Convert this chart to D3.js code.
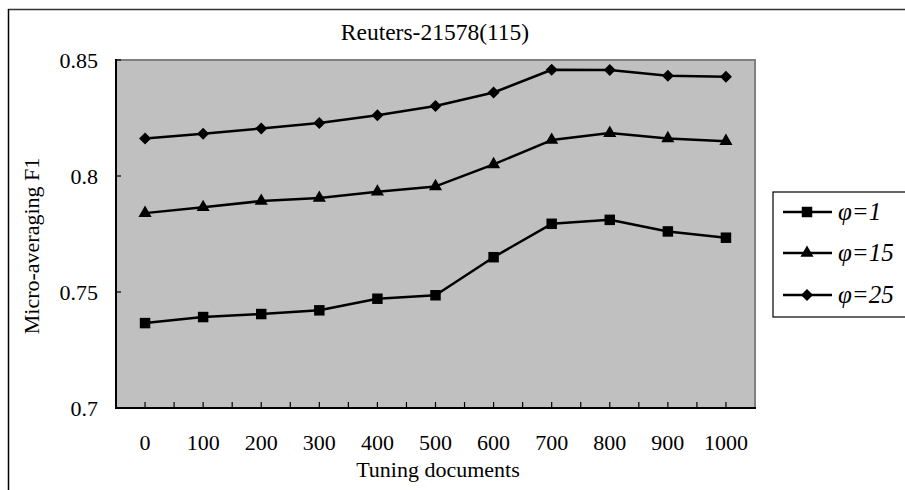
<!DOCTYPE html>
<html><head><meta charset="utf-8">
<script src="https://cdn.jsdelivr.net/npm/d3@7"></script>
<style>
body{margin:0;background:#fff}
svg{display:block}
</style>
</head><body>
<svg id="c" width="905" height="490"></svg>
<script>
const categories = [0,100,200,300,400,500,600,700,800,900,1000];
const seriesNames = ["φ=1","φ=15","φ=25"];
const phi1  = [0.7366,0.7392,0.7405,0.7421,0.7471,0.7486,0.7650,0.7794,0.7811,0.7761,0.7734];
const phi15 = [0.7840,0.7865,0.7892,0.7905,0.7932,0.7955,0.8050,0.8155,0.8185,0.8162,0.8150];
const phi25 = [0.8162,0.8182,0.8205,0.8228,0.8262,0.8302,0.8360,0.8458,0.8457,0.8432,0.8428];
const yTicks = [0.7,0.75,0.8,0.85];
const yTickLabels = ["0.7","0.75","0.8","0.85"];
const titleText = "Reuters-21578(115)";
const xTitle = "Tuning documents";
const yTitle = "Micro-averaging F1";

const FONT = "'Liberation Serif', 'Times New Roman', Times, 'DejaVu Serif', serif";

const series = [
  {name: seriesNames[0], values: phi1, marker: "square"},
  {name: seriesNames[1], values: phi15, marker: "triangle"},
  {name: seriesNames[2], values: phi25, marker: "diamond"}
];

const svg = d3.select("#c");
const L = 116, R = 755, T = 60, B = 408;

const x = d3.scaleBand().domain(categories).range([L, R]);
const bw = x.bandwidth();
const cx = c => x(c) + bw / 2;
const y = d3.scaleLinear().domain([0.7, 0.85]).range([B, T]);

// outer frame (top and left visible)
svg.append("line").attr("x1", 8).attr("x2", 905).attr("y1", 9.5).attr("y2", 9.5)
  .attr("stroke", "#333").attr("stroke-width", 1.5);
svg.append("line").attr("x1", 8.5).attr("x2", 8.5).attr("y1", 9).attr("y2", 490)
  .attr("stroke", "#000").attr("stroke-width", 1.5);

// plot area
svg.append("rect").attr("x", L).attr("y", T).attr("width", R - L).attr("height", B - T)
  .attr("fill", "#c0c0c0").attr("stroke", "#808080").attr("stroke-width", 2);

// axes lines
svg.append("line").attr("x1", L).attr("x2", L).attr("y1", T - 1).attr("y2", B + 1)
  .attr("stroke", "#000").attr("stroke-width", 2);
svg.append("line").attr("x1", L - 1).attr("x2", R + 1).attr("y1", B).attr("y2", B)
  .attr("stroke", "#000").attr("stroke-width", 2);

// y axis labels
const yAxis = d3.axisLeft(y).tickValues(yTicks).tickSize(0).tickPadding(0)
  .tickFormat((d, i) => yTickLabels[i]);
const gy = svg.append("g").attr("transform", `translate(${L},0)`).call(yAxis)
  .attr("font-family", null).attr("font-size", null);
gy.select(".domain").remove();
gy.selectAll("text").attr("x", 98 - L).attr("dy", "0.32em").attr("font-size", 22);
svg.selectAll(".ytick").data(yTicks.slice(1)).join("line")
  .attr("x1", L).attr("x2", L + 5).attr("y1", d => y(d)).attr("y2", d => y(d))
  .attr("stroke", "#000").attr("stroke-width", 1.2);

// x ticks (inside, every half band)
const halfTicks = [];
categories.forEach((c, i) => { halfTicks.push(cx(c)); if (i < categories.length - 1) halfTicks.push(x(c) + bw); });
svg.selectAll(".xtick").data(halfTicks).join("line")
  .attr("x1", d => d).attr("x2", d => d).attr("y1", B).attr("y2", B - 6)
  .attr("stroke", "#000").attr("stroke-width", 1.2);

const xAxis = d3.axisBottom(x).tickSize(0).tickPadding(0);
const gx = svg.append("g").attr("transform", `translate(0,${B})`).call(xAxis)
  .attr("font-family", null).attr("font-size", null);
gx.select(".domain").remove();
gx.selectAll("text").attr("y", 42).attr("dy", 0).attr("font-size", 22);

// titles
svg.append("text").attr("x", 435).attr("y", 40).attr("text-anchor", "middle")
  .attr("font-size", 23.5).text(titleText);
svg.append("text").attr("x", 438).attr("y", 477).attr("text-anchor", "middle")
  .attr("font-size", 22).text(xTitle);
svg.append("text").attr("transform", "translate(39,246) rotate(-90)").attr("text-anchor", "middle")
  .attr("font-size", 22).text(yTitle);

// marker generator
function markerPath(type) {
  if (type === "square") return d3.symbol(d3.symbolSquare, 110)();
  if (type === "triangle") return d3.symbol(d3.symbolTriangle, 75)();
  return "M0,-6L6,0L0,6L-6,0Z";
}

const line = d3.line().x((d, i) => cx(categories[i])).y(d => y(d));
series.forEach(s => {
  svg.append("path").attr("d", line(s.values)).attr("fill", "none")
    .attr("stroke", "#000").attr("stroke-width", 2.5).attr("stroke-linejoin", "round");
  svg.selectAll(null).data(s.values).join("path")
    .attr("d", markerPath(s.marker))
    .attr("transform", (d, i) => `translate(${cx(categories[i])},${y(d)})`)
    .attr("fill", "#000");
});

// legend
svg.append("rect").attr("x", 773).attr("y", 192).attr("width", 140).attr("height", 125)
  .attr("fill", "#fff").attr("stroke", "#000").attr("stroke-width", 1.2);
const ly = [212, 253, 295];
series.forEach((s, i) => {
  const yy = ly[i];
  svg.append("line").attr("x1", 783).attr("x2", 832).attr("y1", yy).attr("y2", yy)
    .attr("stroke", "#000").attr("stroke-width", 2.5);
  svg.append("path").attr("d", markerPath(s.marker)).attr("transform", `translate(807,${yy})`).attr("fill", "#000");
  svg.append("text").attr("x", 838).attr("y", yy + 8).attr("font-size", 25)
    .attr("font-style", "italic").text(s.name);
});

svg.selectAll("text").attr("font-family", FONT).attr("fill", "#000");
</script>
</body></html>
